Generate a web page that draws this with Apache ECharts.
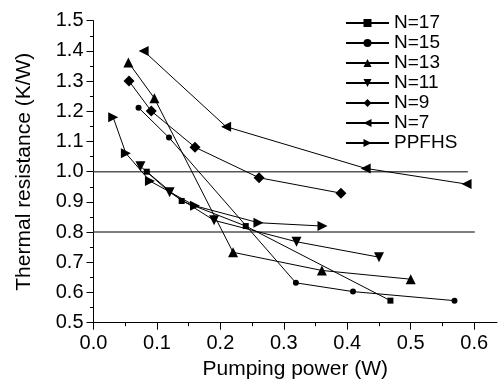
<!DOCTYPE html>
<html>
<head>
<meta charset="utf-8">
<script src="https://cdn.jsdelivr.net/npm/echarts@6/dist/echarts.min.js"></script>
<style>html,body{margin:0;padding:0;background:#fff}#c{width:498px;height:386px}</style>
</head>
<body>
<div id="c"></div>
<script>
// ---- data ----
const seriesNames = ['N=17', 'N=15', 'N=13', 'N=11', 'N=9', 'N=7', 'PPFHS'];
const powerN17 = [0.084, 0.139, 0.24, 0.468];
const resN17   = [1.0, 0.903, 0.82, 0.573];
const powerN15 = [0.071, 0.119, 0.319, 0.409, 0.569];
const resN15   = [1.212, 1.113, 0.632, 0.603, 0.573];
const powerN13 = [0.055, 0.096, 0.22, 0.36, 0.50];
const resN13   = [1.362, 1.243, 0.733, 0.673, 0.644];
const powerN11 = [0.074, 0.12, 0.19, 0.32, 0.45];
const resN11   = [1.018, 0.932, 0.839, 0.768, 0.717];
const powerN9  = [0.056, 0.091, 0.16, 0.261, 0.39];
const resN9    = [1.30, 1.201, 1.081, 0.98, 0.929];
const powerN7  = [0.079, 0.209, 0.429, 0.588];
const resN7    = [1.40, 1.149, 1.011, 0.959];
const powerPP  = [0.031, 0.051, 0.089, 0.16, 0.26, 0.361];
const resPP    = [1.18, 1.061, 0.969, 0.887, 0.831, 0.82];
const refLine1 = { y: 1.0, xEnd: 0.59 };
const refLine2 = { y: 0.8, xEnd: 0.601 };
const xMajorTicks = [0, 0.1, 0.2, 0.3, 0.4, 0.5, 0.6];
const xMinorTicks = [0.05, 0.15, 0.25, 0.35, 0.45, 0.55];

// ---- build ----
const FONT = 'Liberation Sans, Arial, sans-serif';
const pairs = (xs, ys) => xs.map((x, i) => [x, ys[i]]);
const styles = [
  { symbol: 'rect', size: 6, rot: 0 },
  { symbol: 'circle', size: 6, rot: 0 },
  { symbol: 'triangle', size: 10, rot: 0 },
  { symbol: 'triangle', size: 10, rot: 180 },
  { symbol: 'diamond', size: 11, rot: 0 },
  { symbol: 'triangle', size: 10, rot: 90 },
  { symbol: 'triangle', size: 10, rot: -90 }
];
const datasets = [
  pairs(powerN17, resN17), pairs(powerN15, resN15), pairs(powerN13, resN13),
  pairs(powerN11, resN11), pairs(powerN9, resN9), pairs(powerN7, resN7),
  pairs(powerPP, resPP)
];
const series = datasets.map((d, i) => ({
  name: seriesNames[i], type: 'line', data: d,
  symbol: styles[i].symbol, symbolSize: styles[i].size, symbolRotate: styles[i].rot,
  showAllSymbol: true, animation: false,
  lineStyle: { color: '#000', width: 1 },
  itemStyle: { color: '#000' }
}));
[refLine1, refLine2].forEach(r => series.push({
  type: 'line', data: [[0, r.y], [r.xEnd, r.y]], symbol: 'none', animation: false,
  lineStyle: { color: '#555', width: 1.5 }, silent: true, z: 1
}));

const chart = echarts.init(document.getElementById('c'), null, { renderer: 'canvas' });
chart.setOption({
  backgroundColor: '#fff',
  animation: false,
  textStyle: { fontFamily: FONT },
  grid: { left: 93.5, top: 20.7, right: 1, bottom: 63.3, containLabel: false },
  legend: {
    data: seriesNames, orient: 'vertical', left: 340, top: 8,
    itemWidth: 43, itemHeight: 10, itemGap: 0,
    textStyle: { fontSize: 19, color: '#000', fontFamily: FONT, lineHeight: 20 }
  },
  xAxis: [{
    type: 'value', min: 0, max: 0.636, interval: 0.1,
    name: 'Pumping power (W)', nameLocation: 'middle', nameGap: 35,
    nameTextStyle: { fontSize: 21, color: '#000', fontFamily: FONT },
    axisLine: { lineStyle: { color: '#000', width: 1 } },
    axisTick: { show: true, length: 7, inside: false, customValues: xMajorTicks, lineStyle: { color: '#000' } },
    axisLabel: { fontSize: 20, color: '#000', margin: 11, customValues: xMajorTicks, formatter: v => v.toFixed(1) },
    splitLine: { show: false }
  }, {
    type: 'value', min: 0, max: 0.636, position: 'bottom',
    axisLine: { show: false },
    axisTick: { show: true, length: 3.5, customValues: xMinorTicks, lineStyle: { color: '#000' } },
    axisLabel: { show: false }, splitLine: { show: false }
  }],
  yAxis: {
    type: 'value', min: 0.5, max: 1.5, interval: 0.1,
    name: 'Thermal resistance (K/W)', nameLocation: 'middle', nameGap: 59,
    nameTextStyle: { fontSize: 21, color: '#000', fontFamily: FONT },
    axisLine: { show: true, lineStyle: { color: '#000', width: 1 } },
    axisTick: { show: true, length: 7, lineStyle: { color: '#000' } },
    minorTick: { show: true, splitNumber: 2, length: 3.5, lineStyle: { color: '#000' } },
    axisLabel: { fontSize: 20, color: '#000', margin: 10, formatter: v => v.toFixed(1) },
    splitLine: { show: false }
  },
  series: series
});
</script>
</body>
</html>
